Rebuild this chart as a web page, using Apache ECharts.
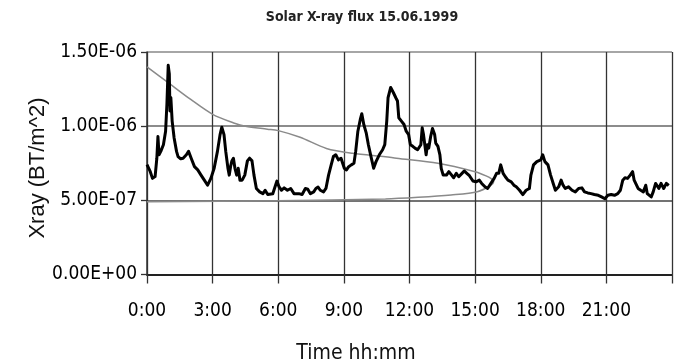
<!DOCTYPE html>
<html>
<head>
<meta charset="utf-8">
<script src="https://cdn.jsdelivr.net/npm/echarts@6/dist/echarts.min.js"></script>
<style>
  html, body { margin: 0; padding: 0; background: #fff; }
  #chart { width: 675px; height: 363px; }
</style>
</head>
<body>
<div id="chart"></div>
<script>
// Time of day, hours since 00:00
const hours = [
  0.00, 0.05, 0.15, 0.25, 0.37, 0.45, 0.50, 0.55, 0.63, 0.75, 0.85, 0.91, 0.97, 1.02, 1.05, 1.09, 1.15, 1.24, 1.35, 1.42,
  1.54, 1.65, 1.80, 1.90, 2.02, 2.17, 2.32, 2.47, 2.62, 2.77, 2.92, 3.07, 3.22, 3.34, 3.42, 3.52, 3.60, 3.70, 3.76, 3.82,
  3.88, 3.95, 4.02, 4.10, 4.17, 4.25, 4.35, 4.47, 4.59, 4.69, 4.80, 4.89, 5.00, 5.15, 5.30, 5.40, 5.52, 5.75, 5.85, 5.94,
  6.04, 6.15, 6.27, 6.42, 6.57, 6.72, 6.94, 7.09, 7.24, 7.35, 7.47, 7.62, 7.72, 7.82, 7.92, 8.07, 8.18, 8.30, 8.42, 8.52,
  8.63, 8.75, 8.87, 9.02, 9.12, 9.22, 9.34, 9.46, 9.54, 9.64, 9.75, 9.82, 9.91, 10.02, 10.12, 10.24, 10.36, 10.47, 10.62, 10.77,
  10.87, 10.96, 11.02, 11.14, 11.26, 11.38, 11.45, 11.51, 11.63, 11.75, 11.85, 11.96, 12.04, 12.15, 12.25, 12.37, 12.45, 12.52, 12.58, 12.64,
  12.70, 12.76, 12.82, 12.88, 12.97, 13.05, 13.10, 13.15, 13.20, 13.30, 13.39, 13.45, 13.54, 13.69, 13.80, 13.90, 14.02, 14.14, 14.25, 14.40,
  14.50, 14.62, 14.74, 14.90, 15.04, 15.19, 15.30, 15.45, 15.57, 15.72, 15.87, 15.98, 16.08, 16.17, 16.28, 16.38, 16.50, 16.65, 16.77, 16.88,
  17.03, 17.18, 17.33, 17.48, 17.55, 17.67, 17.82, 18.00, 18.09, 18.19, 18.33, 18.45, 18.57, 18.67, 18.82, 18.93, 19.02, 19.12, 19.27, 19.43,
  19.58, 19.73, 19.88, 20.00, 20.15, 20.30, 20.45, 20.63, 20.78, 20.93, 21.07, 21.22, 21.37, 21.52, 21.64, 21.75, 21.85, 21.97, 22.09, 22.20,
  22.27, 22.35, 22.45, 22.57, 22.69, 22.80, 22.87, 22.95, 23.05, 23.14, 23.25, 23.32, 23.40, 23.50, 23.62, 23.74, 23.85
];

// Measured X-ray flux, in units of 1E-06 BT/m^2
const flux = [
  0.740, 0.727, 0.693, 0.648, 0.660, 0.784, 0.930, 0.807, 0.830, 0.875, 0.966, 1.148, 1.410, 1.352, 1.102, 1.193, 1.034, 0.920, 0.830, 0.795,
  0.780, 0.784, 0.807, 0.830, 0.784, 0.727, 0.705, 0.670, 0.636, 0.602, 0.648, 0.716, 0.830, 0.943, 0.993, 0.943, 0.830, 0.716, 0.670, 0.727,
  0.766, 0.784, 0.716, 0.670, 0.716, 0.636, 0.636, 0.670, 0.766, 0.784, 0.766, 0.670, 0.580, 0.557, 0.545, 0.568, 0.539, 0.545, 0.590, 0.630,
  0.590, 0.568, 0.584, 0.568, 0.580, 0.545, 0.545, 0.539, 0.580, 0.575, 0.545, 0.557, 0.580, 0.590, 0.568, 0.557, 0.580, 0.670, 0.739, 0.795,
  0.807, 0.773, 0.784, 0.716, 0.705, 0.727, 0.739, 0.750, 0.830, 0.966, 1.045, 1.084, 1.011, 0.955, 0.875, 0.795, 0.716, 0.761, 0.807, 0.841,
  0.875, 1.034, 1.193, 1.261, 1.227, 1.190, 1.170, 1.057, 1.034, 1.011, 0.966, 0.943, 0.875, 0.864, 0.852, 0.841, 0.830, 0.875, 0.989, 0.943,
  0.875, 0.807, 0.875, 0.852, 0.932, 0.984, 0.989, 0.943, 0.886, 0.864, 0.807, 0.716, 0.670, 0.670, 0.693, 0.675, 0.652, 0.682, 0.659, 0.682,
  0.698, 0.682, 0.666, 0.630, 0.625, 0.636, 0.614, 0.591, 0.580, 0.614, 0.648, 0.682, 0.682, 0.739, 0.682, 0.659, 0.636, 0.625, 0.602, 0.591,
  0.568, 0.539, 0.568, 0.580, 0.670, 0.739, 0.761, 0.773, 0.807, 0.761, 0.739, 0.670, 0.614, 0.568, 0.591, 0.636, 0.602, 0.580, 0.591, 0.568,
  0.557, 0.580, 0.584, 0.557, 0.550, 0.545, 0.539, 0.534, 0.523, 0.511, 0.534, 0.539, 0.534, 0.545, 0.568, 0.636, 0.652, 0.648, 0.670, 0.693,
  0.636, 0.625, 0.580, 0.568, 0.557, 0.602, 0.545, 0.534, 0.523, 0.557, 0.614, 0.625, 0.580, 0.614, 0.580, 0.614, 0.600
];

// Background envelope curve (upper branch out, lower branch back), same units
const envHours = [0.0, 1.0, 2.0, 3.0, 4.0, 4.5, 5.5, 6.0, 7.0, 8.2, 9.4, 10.9, 11.4, 13.3, 15.0, 15.5, 15.75, 15.85, 15.7, 15.1, 13.9, 12.4, 10.9, 6.0, 0.0];
const envFlux  = [1.40, 1.29, 1.18, 1.08, 1.02, 1.00, 0.98, 0.97, 0.925, 0.85, 0.817, 0.794, 0.784, 0.75, 0.693, 0.665, 0.645, 0.625, 0.600, 0.558, 0.536, 0.520, 0.509, 0.498, 0.490];

// Axis ticks
const yTicks = [0, 0.5, 1.0, 1.5];
const xTickStep = 3;

const FONT = '"DejaVu Sans Condensed", "Liberation Sans", sans-serif';

function sci(v) {
  if (v === 0) return '0.00E+00';
  const e = Math.floor(Math.log10(Math.abs(v)) + 1e-9);
  const m = v / Math.pow(10, e);
  return m.toFixed(2) + 'E' + (e < 0 ? '-' : '+') + String(Math.abs(e)).padStart(2, '0');
}

const chart = echarts.init(document.getElementById('chart'), null, { renderer: 'canvas' });

chart.setOption({
  animation: false,
  backgroundColor: '#fff',
  grid: { left: 147, right: -6, top: 52, bottom: 363 - 274.5, containLabel: false },
  xAxis: {
    type: 'value',
    min: 0, max: 24, interval: xTickStep,
    axisLine: { show: true, onZero: false, lineStyle: { color: '#222', width: 2 } },
    axisTick: { show: true, inside: false, length: 9, lineStyle: { color: '#333', width: 1.3 } },
    axisLabel: {
      margin: 27, color: '#000', fontFamily: FONT, fontSize: 19,
      formatter: v => (v >= 24 ? '' : Math.round(v) + ':00')
    },
    splitLine: { show: true, lineStyle: { color: '#333', width: 1.3 } }
  },
  yAxis: {
    type: 'value',
    min: yTicks[0], max: yTicks[yTicks.length - 1], interval: 0.5,
    axisLine: { show: true, lineStyle: { color: '#333', width: 1.5 } },
    axisTick: { show: true, inside: false, length: 6, lineStyle: { color: '#333', width: 1.3 } },
    axisLabel: {
      margin: 10, color: '#000', fontFamily: FONT, fontSize: 19,
      formatter: v => sci(v * 1e-6)
    },
    splitLine: { show: true, lineStyle: { color: ['#333', '#444', '#666', '#888'], width: 1.5 } }
  },
  graphic: [
    { type: 'text', x: 362, y: 17,
      style: { text: 'Solar X-ray flux 15.06.1999', fontFamily: FONT, fontSize: 14, fontWeight: 'bold',
               fill: '#222', textAlign: 'center', textVerticalAlign: 'middle' } },
    { type: 'text', x: 356, y: 354,
      style: { text: 'Time hh:mm', fontFamily: FONT, fontSize: 21,
               fill: '#111', textAlign: 'center', textVerticalAlign: 'middle' } },
    { type: 'text', x: 38, y: 168, rotation: Math.PI / 2,
      style: { text: 'Xray (BT/m^2)', fontFamily: '"Liberation Sans", Arial, sans-serif', fontSize: 22,
               fill: '#111', textAlign: 'center', textVerticalAlign: 'middle' } }
  ],
  series: [
    {
      type: 'line',
      data: envHours.map((h, i) => [h, envFlux[i]]),
      symbol: 'none',
      smooth: 0.3,
      lineStyle: { color: '#8a8a8a', width: 1.5 },
      z: 3
    },
    {
      type: 'line',
      data: hours.map((h, i) => [h, flux[i]]),
      symbol: 'none',
      lineStyle: { color: '#000', width: 3, join: 'round' },
      z: 4
    }
  ]
});
</script>
</body>
</html>
